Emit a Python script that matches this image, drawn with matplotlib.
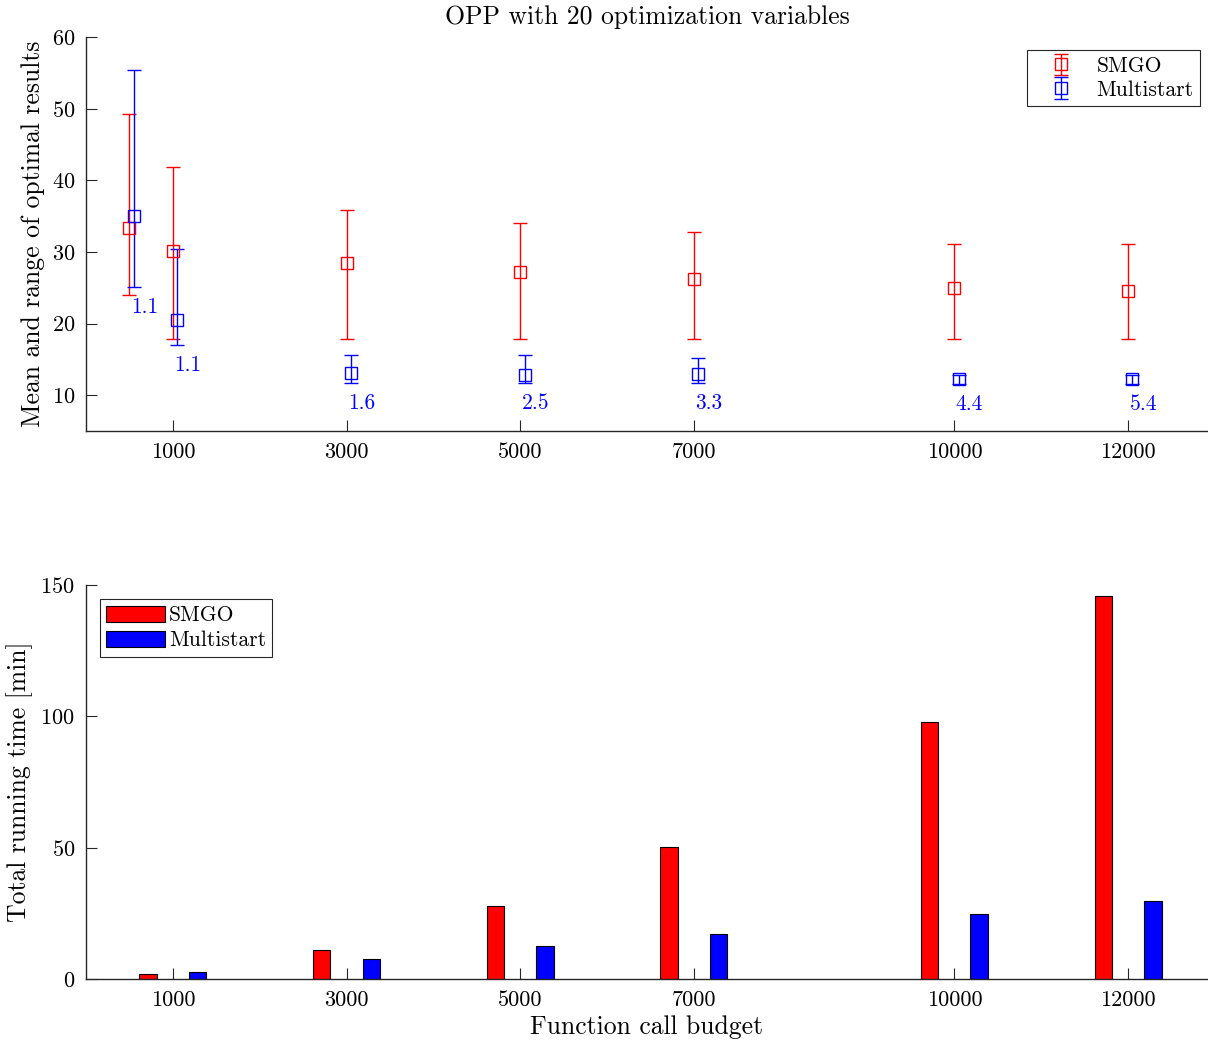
import matplotlib
matplotlib.use("Agg")
import matplotlib.pyplot as plt
import numpy as np

# ---- data ----
budgets = [500, 1000, 3000, 5000, 7000, 10000, 12000]
tick_budgets = [1000, 3000, 5000, 7000, 10000, 12000]

smgo_mean = [33.3, 30.1, 28.4, 27.2, 26.2, 25.0, 24.6]
smgo_low = [24.0, 17.8, 17.9, 17.9, 17.9, 17.9, 17.9]
smgo_high = [49.3, 41.8, 35.8, 34.1, 32.8, 31.1, 31.1]

ms_mean = [35.0, 20.5, 13.15, 12.8, 12.9, 12.2, 12.2]
ms_low = [25.1, 17.0, 11.7, 11.7, 11.7, 11.5, 11.5]
ms_high = [55.4, 30.4, 15.55, 15.55, 15.2, 12.8, 12.8]

ratio_labels = ["1.1", "1.1", "1.6", "2.5", "3.3", "4.4", "5.4"]

bar_budgets = [1000, 3000, 5000, 7000, 10000, 12000]
smgo_time = [1.9, 11.0, 27.7, 50.4, 97.7, 145.8]
ms_time = [2.5, 7.5, 12.4, 17.2, 24.8, 29.7]

# ---- style ----
plt.rcParams["font.family"] = "serif"
plt.rcParams["font.serif"] = ["cmr10", "DejaVu Serif"]
plt.rcParams["mathtext.fontset"] = "cm"
plt.rcParams["axes.formatter.use_mathtext"] = True
axis_color = (0.15, 0.15, 0.15)
LABEL_FS = 18.5
TICK_FS = 16
LEGEND_FS = 15.5

fig = plt.figure(figsize=(12.08, 10.48), dpi=100)
ax1 = fig.add_axes([86 / 1208, 1 - 431 / 1048, 1 - 86 / 1208, (431 - 37) / 1048])
ax2 = fig.add_axes([86 / 1208, 1 - 979 / 1048, 1 - 86 / 1208, (979 - 585) / 1048])


def style_axes(ax):
    for side in ("top", "right"):
        ax.spines[side].set_visible(False)
    for side in ("left", "bottom"):
        ax.spines[side].set_color(axis_color)
        ax.spines[side].set_linewidth(1.0)
    ax.tick_params(direction="in", length=8, width=0.8, colors=axis_color,
                   labelsize=TICK_FS, labelcolor="black")
    ax.tick_params(axis="x", pad=8)
    ax.tick_params(axis="y", pad=8)
    ax.set_xticks(tick_budgets)
    ax.set_xticklabels([str(t) for t in tick_budgets])
    ax.set_xlim(0, 12920)


# ---- top: mean and range of optimal results ----
x = np.array(budgets, dtype=float)
sm = np.array(smgo_mean)
mm = np.array(ms_mean)
shift = 50
ax1.errorbar(x, sm, yerr=[sm - np.array(smgo_low), np.array(smgo_high) - sm],
             fmt="s", color="red", mfc="none", ms=8, mew=1.0, elinewidth=1.0,
             capsize=5, capthick=1.0, label="SMGO")
ax1.errorbar(x + shift, mm, yerr=[mm - np.array(ms_low), np.array(ms_high) - mm],
             fmt="s", color="blue", mfc="none", ms=8, mew=1.0, elinewidth=1.0,
             capsize=5, capthick=1.0, label="Multistart")
for xi, lo, lab in zip(budgets, ms_low, ratio_labels):
    ax1.annotate(lab, (xi, lo - 2.8), xytext=(1, 0), textcoords="offset points",
                 ha="left", va="center", color="blue", fontsize=15.5)

style_axes(ax1)
ax1.set_ylim(5, 60)
ax1.set_yticks([10, 20, 30, 40, 50, 60])
ax1.set_ylabel("Mean and range of optimal results", fontsize=LABEL_FS, labelpad=5)
ax1.set_title("OPP with 20 optimization variables", fontsize=LABEL_FS, pad=9)
leg1 = ax1.legend(loc="upper right", bbox_to_anchor=(0.993, 0.967), borderaxespad=0,
                  fontsize=LEGEND_FS, fancybox=False, framealpha=1, edgecolor=axis_color,
                  handlelength=2.56, handletextpad=0.35, borderpad=0.3, labelspacing=0.2)
leg1.get_frame().set_linewidth(0.8)

# ---- bottom: total running time ----
bx = np.array(bar_budgets, dtype=float)
ax2.bar(bx - 285, smgo_time, width=200, color="red", edgecolor="black",
        linewidth=0.8, label="SMGO")
ax2.bar(bx + 285, ms_time, width=200, color="blue", edgecolor="black",
        linewidth=0.8, label="Multistart")
style_axes(ax2)
ax2.set_ylim(0, 150)
ax2.set_yticks([0, 50, 100, 150])
ax2.set_ylabel("Total running time [min]", fontsize=LABEL_FS, labelpad=5)
ax2.set_xlabel("Function call budget", fontsize=LABEL_FS, labelpad=4)
leg2 = ax2.legend(loc="upper left", bbox_to_anchor=(0.0125, 0.964), borderaxespad=0,
                  fontsize=LEGEND_FS, fancybox=False, framealpha=1, edgecolor=axis_color,
                  handlelength=2.7, handleheight=0.8, handletextpad=0.2,
                  borderpad=0.3, labelspacing=0.25)
leg2.get_frame().set_linewidth(0.8)

fig.savefig("out.png", dpi=100)
